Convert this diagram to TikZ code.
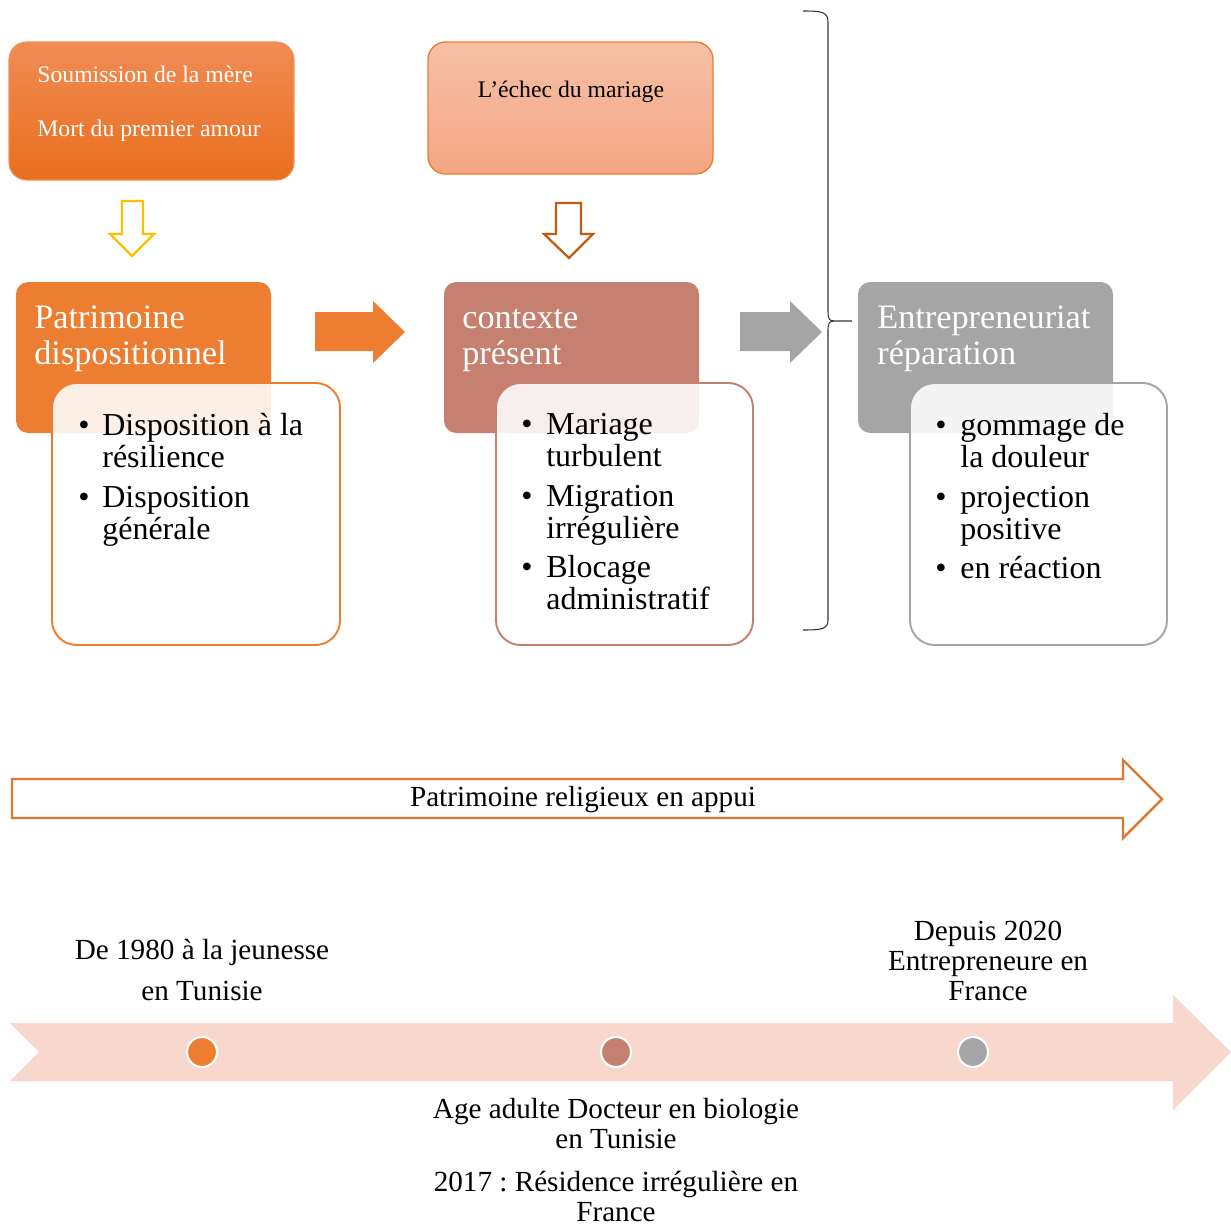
\documentclass[tikz,border=0pt]{standalone}
\usepackage{fontspec}
\setmainfont{Liberation Serif}
\usepackage{xcolor}
\usepackage{tikz}
\usetikzlibrary{positioning}
\frenchspacing
\definecolor{orangeA}{HTML}{ED7D31}
\definecolor{roseB}{HTML}{C5806F}
\definecolor{grisC}{HTML}{A5A5A5}
\definecolor{orhaut}{HTML}{F08C55}
\definecolor{ormilieu}{HTML}{F4802F}
\definecolor{orbas}{HTML}{E96E1C}
\definecolor{saumonhaut}{HTML}{F6C0A7}
\definecolor{saumonbas}{HTML}{F4A683}
\definecolor{ruban}{HTML}{F8D7CC}
\definecolor{jaune}{HTML}{FFC000}
\definecolor{brunorange}{HTML}{C55A11}
\newcommand{\titrefont}{\fontsize{19.5}{20.4}\selectfont}
\newcommand{\pucefont}{\fontsize{18.2}{18.1}\selectfont}
\newcommand{\petitfont}{\fontsize{13.5}{16}\selectfont}
\newcommand{\frisefont}{\fontsize{16.6}{17}\selectfont}

\begin{document}
\begin{tikzpicture}[x=0.02cm, y=-0.02cm,
    petit/.style={inner sep=0, font=\petitfont},
    titre/.style={inner sep=0, anchor=base west, align=left, text=white, font=\titrefont},
    puce/.style={inner sep=0, anchor=base, font=\pucefont},
    item/.style={inner sep=0, anchor=base west, align=left, font=\pucefont},
    frise/.style={inner sep=0, anchor=base, align=center, font=\frisefont},
    entete/.style={draw=none, rounded corners=7pt},
    contenu/.style={line width=1.1pt, fill=white, fill opacity=0.88, rounded corners=14pt},
    jalon/.style={circle, draw=white, line width=1.2pt, minimum size=0.6cm, inner sep=0}]
  \useasboundingbox (0,0) rectangle (1231,1227);

  % Evenements
  \draw[orangeA!85!white, line width=0.6pt, rounded corners=10pt,
        top color=orhaut, middle color=ormilieu, bottom color=orbas] (9,42) rectangle (294,180);
  \node[petit, anchor=base west, text=white] (soumission) at (37,82) {Soumission de la mère};
  \node[petit, anchor=base west, text=white] (mort) at (37,136) {Mort du premier amour};

  \draw[orangeA, line width=0.8pt, rounded corners=10pt,
        top color=saumonhaut, bottom color=saumonbas] (428,42) rectangle (713,174);
  \node[petit, anchor=base] (echec) at (571,97) {L’échec du mariage};

  % Fleches vers le bas
  \draw[jaune, line width=1.3pt, fill=white] (122,201) -- (143,201) -- (143,234) -- (154,234)
    -- (132,256) -- (110,234) -- (122,234) -- cycle;
  \draw[brunorange, line width=1.3pt, fill=white] (556,203) -- (581,203) -- (581,234) -- (593,234)
    -- (569,258) -- (544,234) -- (556,234) -- cycle;

  % Patrimoine dispositionnel
  \draw[entete, fill=orangeA] (16,282) rectangle (271,433);
  \node[titre] (patrimoine) at (34,364) {Patrimoine\\dispositionnel};
  \draw[contenu, draw=orangeA] (52,383) rectangle (340,645);
  \node[puce] (b1) at (84,435) {\textbullet};
  \node[item] (resilience) at (102,467) {Disposition à la\\résilience};
  \node[puce] (b2) at (84,507) {\textbullet};
  \node[item] (generale) at (102,539) {Disposition\\générale};

  \fill[orangeA] (315,312) -- (373,312) -- (373,301) -- (405,332) -- (373,363) -- (373,351)
    -- (315,351) -- cycle;

  % Contexte present
  \draw[entete, fill=roseB] (444,282) rectangle (699,433);
  \node[titre] (contexte) at (462,364) {contexte\\présent};
  \draw[contenu, draw=roseB] (496,383) rectangle (753,645);
  \node[puce] (b3) at (527,434) {\textbullet};
  \node[item] (mariage) at (546,466) {Mariage\\turbulent};
  \node[puce] (b4) at (527,506) {\textbullet};
  \node[item] (migration) at (546,538) {Migration\\irrégulière};
  \node[puce] (b5) at (527,577) {\textbullet};
  \node[item] (blocage) at (546,609) {Blocage\\administratif};

  \fill[grisC] (740,312) -- (790,312) -- (790,301) -- (822,332) -- (790,363) -- (790,351)
    -- (740,351) -- cycle;

  % Accolade
  \draw[black!80, line width=0.6pt] (803,11) .. controls (822,11) and (828,12) .. (828,22)
    -- (828,312) .. controls (828,318) and (829,321) .. (834,321) -- (852,321);
  \draw[black!80, line width=0.6pt] (834,321) .. controls (829,321) and (828,324) .. (828,330)
    -- (828,620) .. controls (828,629) and (822,630) .. (803,630);

  % Entrepreneuriat
  \draw[entete, fill=grisC] (858,282) rectangle (1113,433);
  \node[titre] (entrepreneuriat) at (877,364) {Entrepreneuriat\\réparation};
  \draw[contenu, draw=grisC] (910,383) rectangle (1167,645);
  \node[puce] (b6) at (941,435) {\textbullet};
  \node[item] (gommage) at (960,467) {gommage de\\la douleur};
  \node[puce] (b7) at (941,507) {\textbullet};
  \node[item] (projection) at (960,539) {projection\\positive};
  \node[puce] (b8) at (941,578) {\textbullet};
  \node[item] (reaction) at (960,578) {en réaction};

  % Patrimoine religieux
  \draw[orangeA!95!black, line width=1.4pt, fill=white] (12,779) -- (1123,779) -- (1123,760)
    -- (1162,799) -- (1123,838) -- (1123,818) -- (12,818) -- cycle;
  \node[frise] (religieux) at (583,806) {Patrimoine religieux en appui};

  % Frise
  \fill[ruban] (10,1023) -- (1173,1023) -- (1173,995) -- (1231,1052) -- (1173,1110)
    -- (1173,1081) -- (10,1081) -- (39,1052) -- cycle;
  \node[jalon, fill=orangeA] (j1) at (202,1052) {};
  \node[jalon, fill=roseB] (j2) at (616,1052) {};
  \node[jalon, fill=grisC] (j3) at (973,1052) {};

  \node[frise] (jeunesse) at (202,1000) {De 1980 à la jeunesse\\[6.2pt]en Tunisie};
  \node[frise] (adulte) at (616,1221) {Age adulte Docteur en biologie\\en Tunisie\\[7.4pt]2017 : Résidence irrégulière en\\France};
  \node[frise] (depuis) at (988,1000) {Depuis 2020\\Entrepreneure en\\France};
\end{tikzpicture}
\end{document}
